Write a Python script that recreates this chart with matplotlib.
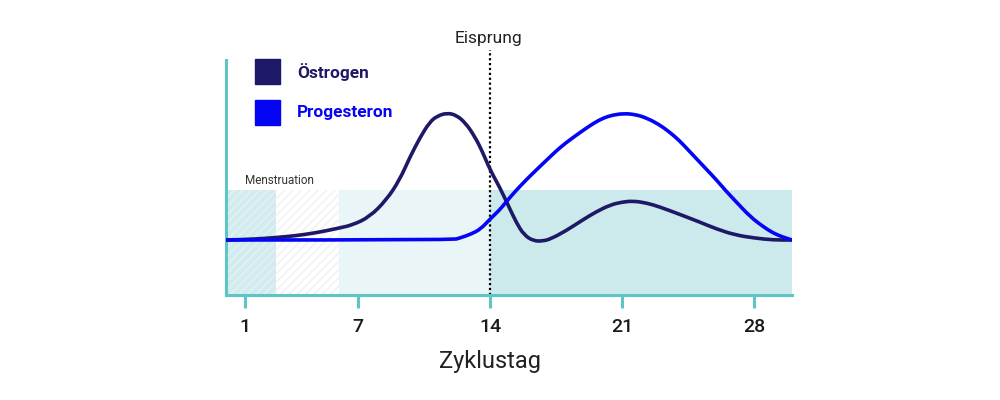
import numpy as np
import matplotlib.pyplot as plt
from matplotlib.path import Path
from matplotlib.patches import PathPatch

# cycle days and hormone levels (arbitrary units)
oe_days = [0, 1, 2, 3, 4, 5, 6, 6.7, 7.6, 8.5, 9.2, 9.75, 10.3, 10.8, 11.2, 11.7,
           12.2, 12.7, 13.2, 13.6, 14, 14.5, 15, 15.4, 15.8, 16.3, 16.8, 17.2,
           18, 18.9, 19.6, 20.35, 21, 21.6, 22.3, 23, 24, 25.1, 26, 27, 28, 29, 30]
oe_level = [55, 55.5, 56.5, 58, 60, 63, 67, 70, 78, 95, 115, 138, 158, 173, 179, 182,
            180, 172, 158, 143, 125, 108, 88, 72, 60, 54, 54, 56,
            64, 75, 83, 90, 93, 94, 92, 88, 81, 73, 66, 60, 57, 55, 55]

pg_days = [0, 12, 12.4, 13, 13.5, 14, 14.5, 14.8, 15.3, 15.9, 16.5, 17, 17.5, 18,
           18.8, 19.5, 20, 20.5, 21.1, 21.7, 22.3, 23, 23.5, 24, 24.5, 25, 25.5,
           26, 26.5, 27, 27.8, 28.5, 29, 29.5, 30]
pg_level = [55, 55, 57, 61, 66, 76, 85, 92, 103, 115, 126, 135, 144, 152,
            163, 172, 177, 180, 181.5, 180.5, 177, 170, 163, 155, 145, 135, 125,
            115, 104, 94, 78, 68, 62, 58, 55]

phase_start = [0, 2.65, 6, 14]
phase_end = [2.65, 6, 14, 30]
phase_top = 105
ovulation_day = 14

tick_days = [1, 7, 14, 21, 28]

teal = '#5ec5c7'
navy = '#1e1966'
blue = '#0505f5'

plt.rcParams['font.family'] = ['Roboto', 'DejaVu Sans']
plt.rcParams['hatch.linewidth'] = 1.2


def smooth_path(xs, ys):
    # quadratic bezier through the midpoints, read points as control points
    pts = np.column_stack([xs, ys])
    verts = [pts[0]]
    codes = [Path.MOVETO]
    for i in range(1, len(pts) - 1):
        mid = (pts[i] + pts[i + 1]) / 2
        verts += [pts[i], mid]
        codes += [Path.CURVE3, Path.CURVE3]
    verts.append(pts[-1])
    codes.append(Path.LINETO)
    return Path(verts, codes)


fig = plt.figure(figsize=(10, 4), dpi=100)
ax = fig.add_axes([0.226, 0.2625, 0.566, 0.5875])

# phase backgrounds
face = ['#d2ebee', '#ffffff', '#eaf5f7', '#cce9ec']
hatchcol = ['#e2f2f4', '#f2f2f2', None, None]
for s, e, fc, hc in zip(phase_start, phase_end, face, hatchcol):
    if hc:
        ax.fill_between([s, e], 0, phase_top, facecolor=fc, edgecolor=hc,
                        linewidth=0, hatch='////', zorder=1)
    else:
        ax.fill_between([s, e], 0, phase_top, facecolor=fc, linewidth=0, zorder=1)

ax.plot([ovulation_day, ovulation_day], [0, 245], color='black', ls=(0, (1, 1.2)),
        lw=1.6, clip_on=False, zorder=2)

ax.add_patch(PathPatch(smooth_path(oe_days, oe_level), fill=False, edgecolor=navy,
                       lw=2.6, joinstyle='round', capstyle='round', zorder=3))
ax.add_patch(PathPatch(smooth_path(pg_days, pg_level), fill=False, edgecolor=blue,
                       lw=2.6, joinstyle='round', capstyle='round', zorder=4))

ax.set_xlim(0, 30)
ax.set_ylim(0, 235)
for side in ['top', 'right']:
    ax.spines[side].set_visible(False)
for side in ['left', 'bottom']:
    ax.spines[side].set_color(teal)
    ax.spines[side].set_linewidth(2.2)
ax.set_yticks([])
ax.set_xticks(tick_days)
ax.tick_params(axis='x', length=9.5, width=2.2, color=teal, pad=7,
               labelsize=14, labelcolor='#1a1a1a')
for lab in ax.get_xticklabels():
    lab.set_fontweight('medium')
ax.set_xlabel('Zyklustag', fontsize=17, fontweight='normal', color='#222222')
ax.xaxis.set_label_coords(0.466, -0.235)

ax.text(1.0, 114, 'Menstruation', fontsize=8.5, color='#333333', va='center')
fig.text(0.488, 0.905, 'Eisprung', fontsize=12.5, fontweight='normal', color='#222222',
         ha='center', va='center')

# legend
legend_names = ['Östrogen', 'Progesteron']
legend_cols = [navy, blue]
legend_y = [0.82, 0.7175]
for name, col, y in zip(legend_names, legend_cols, legend_y):
    fig.patches.append(plt.Rectangle((0.255, y - 0.031), 0.025, 0.063, color=col,
                                     transform=fig.transFigure))
    fig.text(0.297, y, name, fontsize=12.4, fontweight='bold', color=col, va='center')

fig.savefig('out.png', dpi=100)
